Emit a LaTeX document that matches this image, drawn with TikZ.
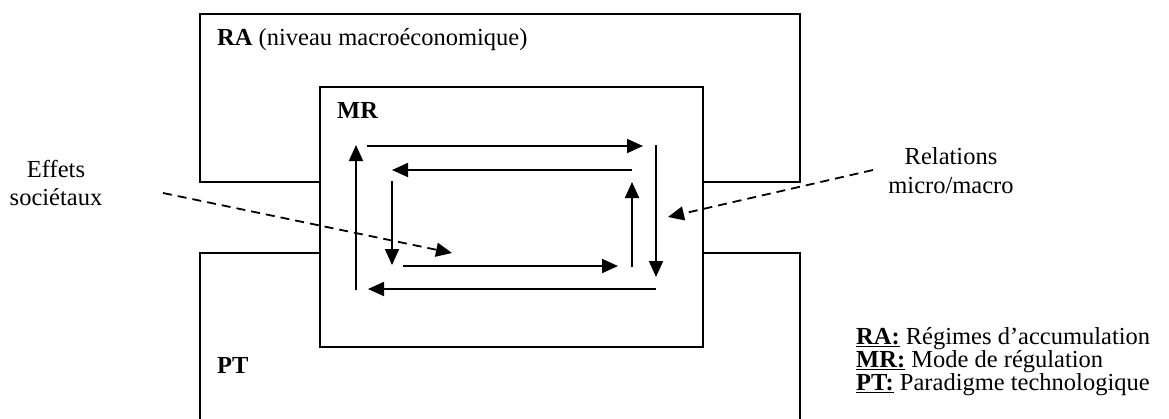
\documentclass[tikz,border=0pt]{standalone}
\usepackage{fontspec}
\setmainfont{Liberation Serif}
\usetikzlibrary{arrows.meta}

\begin{document}
\begin{tikzpicture}[x=1pt,y=-1pt,
  box/.style={draw,line width=1.8pt},
  flow/.style={line width=1.8pt,-{Triangle[length=16pt,width=14pt]}},
  hint/.style={flow,dash pattern=on 9pt off 6pt},
  txt/.style={inner sep=0pt,anchor=base west,font=\fontsize{24.5}{28}\selectfont},
  ctxt/.style={txt,anchor=base}]
\clip (0,0) rectangle (1169,418);
% RA (top) and PT (bottom), MR drawn over them
\draw[box] (200,14) rectangle (800,182);
\draw[box] (200,253) rectangle (800,440);
\draw[box,fill=white] (320,87) rectangle (703,347);
\node[txt] (ra) at (217,45) {\textbf{RA} (niveau macroéconomique)};
\node[txt] (mr) at (337,118) {\textbf{MR}};
\node[txt] (pt) at (217,373) {\textbf{PT}};
% side labels
\node[ctxt] (eff) at (56,177) {Effets};
\node[ctxt] (soc) at (56,205) {sociétaux};
\node[ctxt] (rel) at (951,164) {Relations};
\node[ctxt] (mic) at (951,193) {micro/macro};
% legend
\node[txt] (legra) at (856,344) {\underline{\textbf{RA:}} Régimes d’accumulation};
\node[txt] (legmr) at (856,367) {\underline{\textbf{MR:}} Mode de régulation};
\node[txt] (legpt) at (856,390) {\underline{\textbf{PT:}} Paradigme technologique};
% outer loop
\coordinate (o1a) at (356,290); \coordinate (o1b) at (356,145);
\coordinate (o2a) at (367,146); \coordinate (o2b) at (643,146);
\coordinate (o3a) at (656,145); \coordinate (o3b) at (656,277);
\coordinate (o4a) at (656,289); \coordinate (o4b) at (368,289);
\draw[flow] (o1a) -- (o1b);
\draw[flow] (o2a) -- (o2b);
\draw[flow] (o3a) -- (o3b);
\draw[flow] (o4a) -- (o4b);
% inner loop
\coordinate (i1a) at (632,170); \coordinate (i1b) at (392,170);
\coordinate (i2a) at (392,181); \coordinate (i2b) at (392,265);
\coordinate (i3a) at (403,266); \coordinate (i3b) at (618,266);
\coordinate (i4a) at (632,267); \coordinate (i4b) at (632,182);
\draw[flow] (i1a) -- (i1b);
\draw[flow] (i2a) -- (i2b);
\draw[flow] (i3a) -- (i3b);
\draw[flow] (i4a) -- (i4b);
% dashed influences
\coordinate (effin) at (163,193); \coordinate (effout) at (452,253);
\coordinate (relin) at (873,170); \coordinate (relout) at (668,217);
\draw[hint] (effin) -- (effout);
\draw[hint] (relin) -- (relout);
\end{tikzpicture}
\end{document}
